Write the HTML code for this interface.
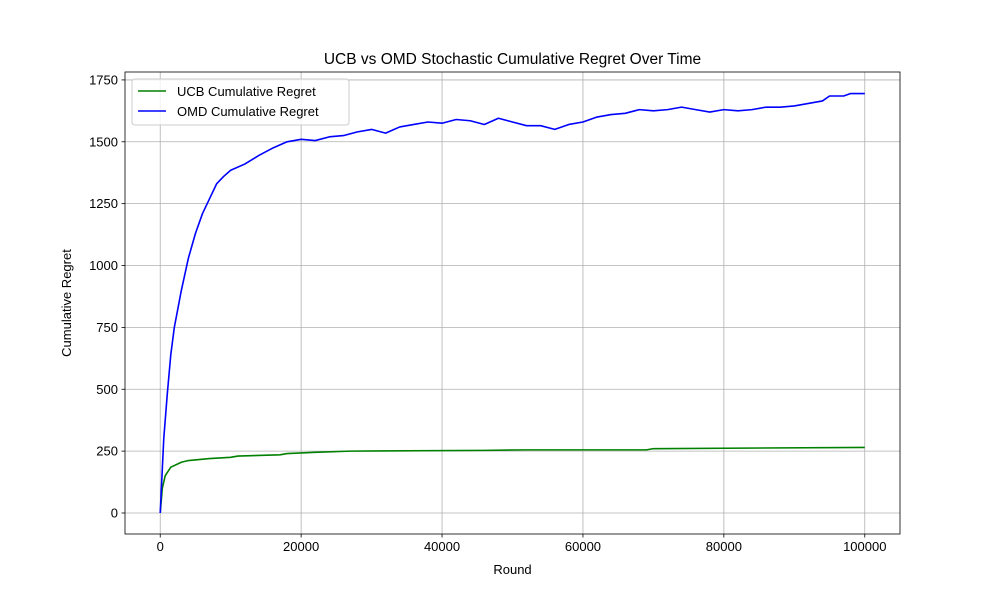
<!DOCTYPE html>
<html><head><meta charset="utf-8"><style>
body{margin:0;background:#fff;}
svg{display:block;font-family:"Liberation Sans","DejaVu Sans",sans-serif;}
</style></head><body>
<svg id="chart" width="1000" height="600"></svg>
<script>
const xTicks=[0,20000,40000,60000,80000,100000];
const yTicks=[0,250,500,750,1000,1250,1500,1750];
const omdX=[0,500,1000,1500,2000,3000,4000,5000,6000,7000,8000,9000,10000,12000,14000,16000,18000,20000,22000,24000,26000,28000,30000,32000,34000,36000,38000,40000,42000,44000,46000,48000,50000,52000,54000,56000,58000,60000,62000,64000,66000,68000,70000,72000,74000,76000,78000,80000,82000,84000,86000,88000,90000,92000,94000,95000,97000,98000,100000];
const omdY=[0,300,480,640,750,900,1030,1130,1210,1270,1330,1360,1385,1410,1445,1475,1500,1510,1505,1520,1525,1540,1550,1535,1560,1570,1580,1575,1590,1585,1570,1595,1580,1565,1565,1550,1570,1580,1600,1610,1615,1630,1625,1630,1640,1630,1620,1630,1625,1630,1640,1640,1645,1655,1665,1685,1685,1695,1695];
const ucbX=[0,300,700,1500,3000,4000,7000,10000,11000,17000,18000,22000,27000,46000,52000,69000,70000,100000];
const ucbY=[0,100,150,185,205,212,220,225,230,235,240,245,250,253,255,255,260,265];

const L=125,R=900,T=72,B=534;
const xmin=-5000,xmax=105000,ymin=-84.9,ymax=1782;
const sx=v=>L+(v-xmin)/(xmax-xmin)*(R-L);
const sy=v=>B-(v-ymin)/(ymax-ymin)*(B-T);
const svg=document.getElementById('chart');
const NS='http://www.w3.org/2000/svg';
function mk(tag,attrs,text){const e=document.createElementNS(NS,tag);for(const k in attrs)e.setAttribute(k,attrs[k]);if(text!==undefined)e.textContent=text;svg.appendChild(e);return e;}

xTicks.forEach(t=>{
 const g=mk('line',{x1:sx(t),x2:sx(t),y1:T,y2:B,stroke:'#b0b0b0','stroke-width':0.8});
 
 
 mk('line',{x1:sx(t),x2:sx(t),y1:B,y2:B+3.5,stroke:'#000','stroke-width':0.8});
 const tx=mk('text',{x:sx(t),y:B+17,'text-anchor':'middle','font-size':13},String(t));
 
 
});
yTicks.forEach(t=>{
 const g=mk('line',{x1:L,x2:R,y1:sy(t),y2:sy(t),stroke:'#b0b0b0','stroke-width':0.8});
 
 
 mk('line',{x1:L-3.5,x2:L,y1:sy(t),y2:sy(t),stroke:'#000','stroke-width':0.8});
 const tx=mk('text',{x:L-7,y:sy(t)+4.5,'text-anchor':'end','font-size':13},String(t));
 
 
});
function line(xs,ys,color,name){
 const p=mk('polyline',{points:xs.map((x,i)=>sx(x)+','+sy(ys[i])).join(' '),fill:'none',stroke:color,'stroke-width':1.6,'stroke-linejoin':'round'});
 
 
}
line(ucbX,ucbY,'green','ucb-line');
line(omdX,omdY,'blue','omd-line');
const fr=mk('rect',{x:L,y:T,width:R-L,height:B-T,fill:'none',stroke:'#000','stroke-width':0.8});


const ti=mk('text',{x:(L+R)/2,y:64,'text-anchor':'middle','font-size':15.5},'UCB vs OMD Stochastic Cumulative Regret Over Time');


const xl=mk('text',{x:(L+R)/2,y:574,'text-anchor':'middle','font-size':13},'Round');


const yl=mk('text',{x:71,y:(T+B)/2,'text-anchor':'middle','font-size':13,transform:'rotate(-90 71 '+((T+B)/2)+')'},'Cumulative Regret');


const lg=mk('rect',{x:132,y:79,width:217,height:46,rx:3,fill:'#fff','fill-opacity':0.8,stroke:'#ccc'});


[['UCB Cumulative Regret','green',91],['OMD Cumulative Regret','blue',111]].forEach(([t,c,y])=>{
 mk('line',{x1:138,x2:166,y1:y,y2:y,stroke:c,'stroke-width':1.6});
 const e=mk('text',{x:177,y:y+5,'font-size':13},t);
 
 
});
</script>
</body></html>
